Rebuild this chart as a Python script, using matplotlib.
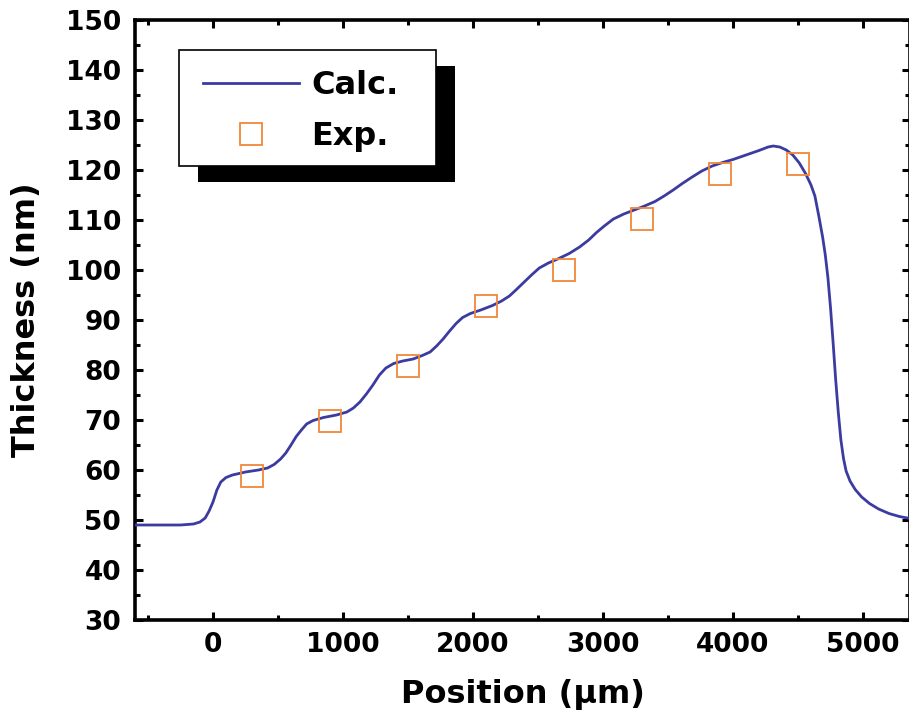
import matplotlib
matplotlib.use('Agg')
import matplotlib.pyplot as plt
from matplotlib.patches import Rectangle
from matplotlib.ticker import MultipleLocator

# Calculated thickness profile
calc_x = [-600, -400, -250, -150, -100, -60, -30, 0, 30, 60, 100, 150, 250, 350,
          420, 470, 520, 560, 600, 640, 680, 720, 770, 850, 950, 1030, 1080, 1130,
          1180, 1230, 1280, 1330, 1390, 1460, 1540, 1610, 1670, 1720, 1770, 1820,
          1870, 1920, 1980, 2060, 2150, 2220, 2280, 2330, 2390, 2450, 2510, 2580,
          2660, 2740, 2820, 2890, 2950, 3010, 3080, 3160, 3240, 3320, 3400, 3470,
          3540, 3610, 3680, 3760, 3840, 3920, 4000, 4100, 4200, 4270, 4310, 4360,
          4410, 4460, 4510, 4560, 4600, 4630, 4660, 4690, 4710, 4730, 4750, 4770,
          4790, 4810, 4830, 4850, 4870, 4900, 4940, 4990, 5050, 5120, 5200, 5280, 5360]
calc_y = [49.0, 49.0, 49.0, 49.2, 49.6, 50.4, 51.8, 53.6, 56.0, 57.6, 58.5, 59.0,
          59.6, 60.0, 60.4, 61.1, 62.2, 63.4, 65.0, 66.7, 68.0, 69.2, 69.9, 70.5,
          71.0, 71.6, 72.4, 73.6, 75.2, 77.0, 79.0, 80.4, 81.3, 81.8, 82.2, 82.9,
          83.6, 84.8, 86.2, 87.8, 89.3, 90.5, 91.3, 92.0, 92.9, 93.8, 94.8, 96.0,
          97.5, 99.0, 100.4, 101.4, 102.3, 103.3, 104.6, 106.0, 107.5, 108.8, 110.2,
          111.2, 112.0, 112.8, 113.7, 114.8, 116.0, 117.3, 118.5, 119.8, 120.8,
          121.5, 122.1, 123.0, 123.9, 124.6, 124.8, 124.6, 124.0, 123.0, 121.4,
          119.2, 117.0, 114.8, 110.8, 106.5, 103.0, 98.5, 92.5, 85.5, 78.0, 71.5,
          66.0, 62.3, 59.8, 57.8, 56.1, 54.6, 53.3, 52.2, 51.3, 50.7, 50.3]

# Experimental points
exp_x = [300, 900, 1500, 2100, 2700, 3300, 3900, 4500]
exp_y = [58.8, 69.8, 80.9, 92.8, 100.1, 110.3, 119.2, 121.2]

labels = ['Calc.', 'Exp.']

plt.rcParams['font.family'] = 'DejaVu Sans'
plt.rcParams['font.weight'] = 'bold'

W, H = 909, 717
fig = plt.figure(figsize=(W / 100, H / 100), dpi=100)
L, R, T, B = 135, 910, 20, 620
ax = fig.add_axes([L / W, 1 - B / H, (R - L) / W, (B - T) / H])

ax.plot(calc_x, calc_y, color='#3b3ba0', lw=2.0, label=labels[0], zorder=3)
ax.plot(exp_x, exp_y, ls='none', marker='s', ms=16, mfc='none', mec='#f0883a',
        mew=1.3, label=labels[1], zorder=4)

ax.set_xlim(-600, -600 + (R - L) / 0.13)
ax.set_ylim(30, 150)
ax.xaxis.set_major_locator(MultipleLocator(1000))
ax.xaxis.set_minor_locator(MultipleLocator(500))
ax.yaxis.set_major_locator(MultipleLocator(10))
ax.yaxis.set_minor_locator(MultipleLocator(5))
ax.tick_params(which='both', direction='in', top=True, right=True, width=2.2)
ax.tick_params(which='major', length=6)
ax.tick_params(which='minor', length=3.5)
ax.tick_params(axis='x', which='major', labelsize=19, pad=9)
ax.tick_params(axis='y', which='major', labelsize=19, pad=10)
for s in ax.spines.values():
    s.set_linewidth(2.6)

ax.set_xlabel('Position (μm)', fontsize=23, fontweight='bold', labelpad=15)
ax.set_ylabel('Thickness (nm)', fontsize=23, fontweight='bold', labelpad=17)


def ax_x(px):
    return (px - L) / (R - L)


def ax_y(py):
    return (B - py) / (B - T)


# Legend frame with a solid drop shadow (pixel positions of the reference)
bx0, bx1, by0, by1 = 179, 436, 50, 166
sh = (19, 16)
ax.add_patch(Rectangle((ax_x(bx0 + sh[0]), ax_y(by1 + sh[1])),
                       ax_x(bx1) - ax_x(bx0), ax_y(by0) - ax_y(by1),
                       transform=ax.transAxes, facecolor='black', edgecolor='none',
                       zorder=4.6, clip_on=False))
ax.add_patch(Rectangle((ax_x(bx0), ax_y(by1)),
                       ax_x(bx1) - ax_x(bx0), ax_y(by0) - ax_y(by1),
                       transform=ax.transAxes, facecolor='white', edgecolor='black',
                       linewidth=1.2, zorder=4.7, clip_on=False))

leg = ax.legend(loc='upper left', bbox_to_anchor=(ax_x(203), ax_y(70)),
                borderaxespad=0, borderpad=0, fontsize=23, handlelength=3.0,
                handletextpad=0.4, numpoints=1, frameon=False, labelspacing=0.62)
leg.set_zorder(5)

fig.savefig('out.png', dpi=100)
